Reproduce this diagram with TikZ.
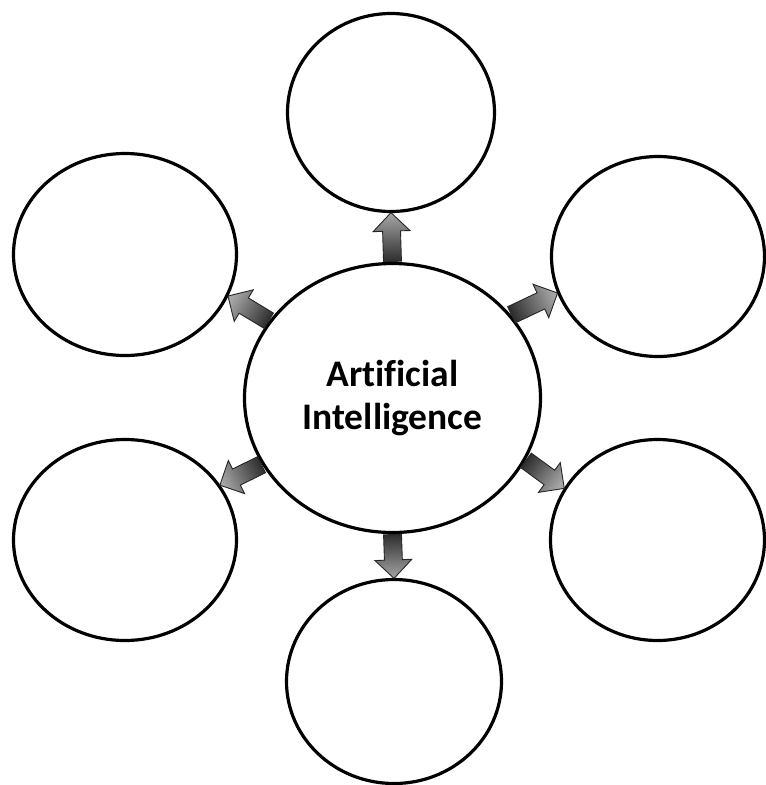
\documentclass[tikz,border=0pt]{standalone}
\usepackage{fontspec}
\setmainfont{Carlito}[Ligatures=CommonOff]
\usetikzlibrary{shapes.geometric,shapes.arrows,calc}
\newcommand\aiconnect[2]{%
  \path let \p1=(#1), \p2=(#2),
    \n1={veclen(\x2-\x1,\y2-\y1)},
    \n2={atan2(\y2-\y1,\x2-\x1)},
    \n3={\n2-90} in
    node[aiarrow, minimum height=\n1, rotate=\n2, shading angle=\n3] at (\p1) {};}
\begin{document}
\begin{tikzpicture}[x=1pt,y=-1pt,
  bubble/.style={ellipse, draw=black, line width=3.2pt, fill=white, inner sep=0pt},
  aiarrow/.style={single arrow, draw=black!85, line width=0.9pt, inner sep=8.5pt,
    single arrow head extend=9.5pt, single arrow tip angle=90, anchor=tail,
    top color=black!35, bottom color=black!82}]
\useasboundingbox (0,0) rectangle (766,785);
\node[bubble, minimum width=296pt, minimum height=269pt, align=center,
  font=\bfseries\fontsize{37.5}{43}\selectfont] (c) at (392.5,398) {Artificial\\Intelligence};
\node[bubble, minimum width=207pt, minimum height=198pt] (t) at (391,112.5) {};
\node[bubble, minimum width=223pt, minimum height=202pt] (ul) at (125,254.5) {};
\node[bubble, minimum width=213pt, minimum height=200pt] (ur) at (658,256.5) {};
\node[bubble, minimum width=223pt, minimum height=201pt] (ll) at (125,540) {};
\node[bubble, minimum width=214pt, minimum height=201pt] (lr) at (657.5,540) {};
\node[bubble, minimum width=215pt, minimum height=204pt] (b) at (394,681.5) {};
\aiconnect{c.90}{t.270}
\aiconnect{c.270}{b.90}
\aiconnect{c.148}{ul.-22}
\aiconnect{c.35}{ur.200}
\aiconnect{c.207}{ll.30}
\aiconnect{c.335}{lr.151}
\end{tikzpicture}
\end{document}
